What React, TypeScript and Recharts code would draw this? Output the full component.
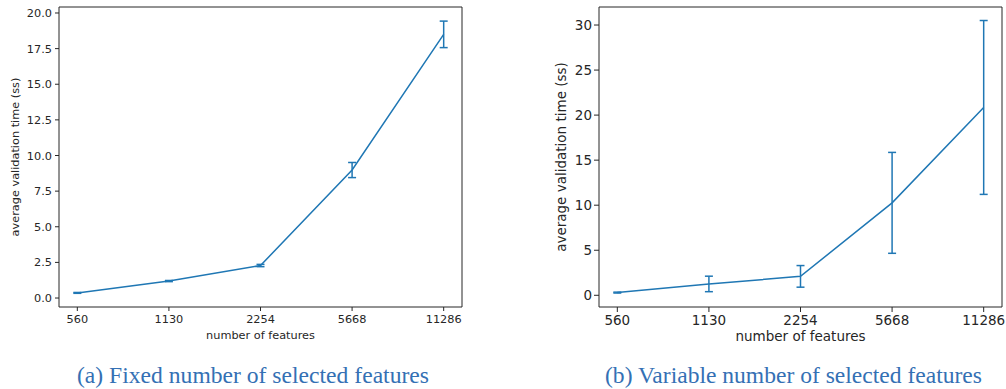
import { ErrorBar, Label, Line, LineChart, ReferenceArea, XAxis, YAxis } from 'recharts';

const featureCounts = ['560', '1130', '2254', '5668', '11286'];

const fixedMeans = [0.36, 1.19, 2.28, 8.98, 18.5];
const fixedStd = [0.03, 0.04, 0.08, 0.53, 0.93];
const fixedTicks = [0, 2.5, 5, 7.5, 10, 12.5, 15, 17.5, 20];

const variableMeans = [0.3, 1.26, 2.1, 10.26, 20.85];
const variableStd = [0.05, 0.86, 1.2, 5.6, 9.65];
const variableTicks = [0, 5, 10, 15, 20, 25, 30];

const BLUE = '#1f77b4';
const INK = '#262626';
const FONT = '"DejaVu Sans", sans-serif';

type PanelProps = {
  means: number[];
  std: number[];
  ticks: number[];
  yDomain: [number, number];
  yFormat: (v: number) => string;
  left: number;
  width: number;
  axisWidth: number;
  marginRight: number;
  fontSize: number;
  tickSize: number;
  tickMargin: number;
  yLabelDx: number;
  xLabelOffset: number;
};

function buildRows(means: number[], std: number[]) {
  return featureCounts.map((label, i) => ({ idx: i, label, mean: means[i], err: std[i] }));
}

function Panel(p: PanelProps) {
  const rows = buildRows(p.means, p.std);
  const tickStyle = { fill: INK, fontSize: p.fontSize, fontFamily: FONT };
  return (
    <div style={{ position: 'absolute', left: p.left, top: 0 }}>
      <LineChart
        width={p.width}
        height={345}
        data={rows}
        margin={{ top: 7, right: p.marginRight, left: 0, bottom: 0 }}
      >
        <XAxis
          dataKey="idx"
          type="number"
          domain={[-0.2, 4.2]}
          ticks={[0, 1, 2, 3, 4]}
          tickFormatter={(v: number) => featureCounts[v]}
          allowDataOverflow
          height={38}
          axisLine={false}
          tickSize={p.tickSize}
          tickMargin={p.tickMargin}
          tick={tickStyle}
          tickLine={{ stroke: INK }}
        >
          <Label
            value="number of features"
            position="insideBottom"
            offset={p.xLabelOffset}
            style={{ fill: INK, fontSize: p.fontSize, fontFamily: FONT }}
          />
        </XAxis>
        <YAxis
          type="number"
          domain={p.yDomain}
          ticks={p.ticks}
          tickFormatter={p.yFormat}
          allowDataOverflow
          width={p.axisWidth}
          axisLine={false}
          tickSize={p.tickSize}
          tickMargin={p.tickMargin - 1}
          tick={tickStyle}
          tickLine={{ stroke: INK }}
        >
          <Label
            value="average validation time (ss)"
            angle={-90}
            position="center"
            dx={p.yLabelDx}
            style={{ fill: INK, fontSize: p.fontSize, fontFamily: FONT }}
          />
        </YAxis>
        <ReferenceArea
          x1={-0.2}
          x2={4.2}
          y1={p.yDomain[0]}
          y2={p.yDomain[1]}
          fill="none"
          stroke={INK}
          strokeWidth={1}
        />
        <Line
          dataKey="mean"
          stroke={BLUE}
          strokeWidth={1.5}
          dot={false}
          isAnimationActive={false}
        >
          <ErrorBar dataKey="err" direction="y" width={4} stroke={BLUE} strokeWidth={1.5} />
        </Line>
      </LineChart>
    </div>
  );
}

function Caption({ text, x, width }: { text: string; x: number; width: number }) {
  return (
    <text
      x={x}
      y={383}
      textLength={width}
      lengthAdjust="spacingAndGlyphs"
      fill="#3470b4"
      style={{ fontFamily: '"Liberation Serif", "DejaVu Serif", serif', fontSize: 22.5 }}
    >
      {text}
    </text>
  );
}

export default function App() {
  return (
    <div style={{ position: 'absolute', left: 0, top: 0, width: 1006, height: 389, background: '#fff' }}>
      <Panel
        means={fixedMeans}
        std={fixedStd}
        ticks={fixedTicks}
        yDomain={[-0.63, 20.42]}
        yFormat={(v) => v.toFixed(1)}
        left={0}
        width={480}
        axisWidth={59}
        marginRight={18}
        fontSize={11.3}
        tickSize={4}
        tickMargin={4}
        yLabelDx={-14.5}
        xLabelOffset={6}
      />
      <Panel
        means={variableMeans}
        std={variableStd}
        ticks={variableTicks}
        yDomain={[-1.3, 32.0]}
        yFormat={(v) => String(v)}
        left={520}
        width={486}
        axisWidth={79}
        marginRight={4}
        fontSize={13.5}
        tickSize={5}
        tickMargin={3}
        yLabelDx={2}
        xLabelOffset={4}
      />
      <svg width={1006} height={389} style={{ position: 'absolute', left: 0, top: 0, pointerEvents: 'none' }}>
        <Caption text="(a) Fixed number of selected features" x={77} width={352} />
        <Caption text="(b) Variable number of selected features" x={605} width={377} />
      </svg>
    </div>
  );
}
